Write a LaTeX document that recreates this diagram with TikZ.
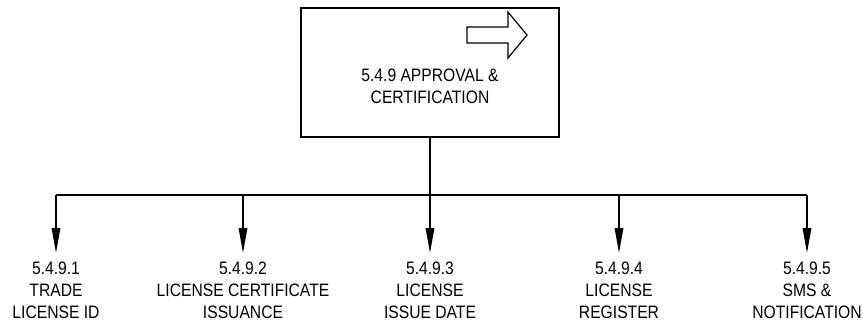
\documentclass[tikz,border=0pt]{standalone}
\usepackage{fontspec}
\setmainfont{Liberation Sans}[FakeStretch=0.87]
\usetikzlibrary{arrows.meta}

\tikzset{
  heavy/.style={line width=1.6pt},
  link/.style={heavy,-{Triangle[length=25pt,width=8.5pt]}},
  leaf/.style={anchor=north,align=center,inner ysep=9pt,font=\fontsize{18}{22}\selectfont},
  boxtext/.style={align=center,font=\fontsize{18}{22}\selectfont}
}

\begin{document}
\begin{tikzpicture}[x=1pt,y=-1pt]
\useasboundingbox (0,0) rectangle (863,325);
\node[draw,heavy,minimum width=258pt,minimum height=129pt] (app) at (430,72.5) {};
\node[boxtext] (apptitle) at (430,86) {5.4.9 APPROVAL \&\\CERTIFICATION};
\draw[line width=1.2pt] (467,27)--(508,27)--(508,12)--(527,35)--(508,58)--(508,43)--(467,43)--cycle;
\coordinate (bus) at (430,195);
\draw[heavy] (app.south) -- (bus);
\foreach \x/\n/\t in {56/1/{TRADE\\LICENSE ID},243/2/{LICENSE CERTIFICATE\\ISSUANCE},
                      430/3/{LICENSE\\ISSUE DATE},619/4/{LICENSE\\REGISTER},807/5/{SMS \&\\NOTIFICATION}}
  {\node[leaf] (c\n) at (\x,253) {5.4.9.\n\\\t};
   \draw[link] (c\n.north |- bus) -- (c\n.north);}
\draw[heavy] (c1.north |- bus) -- (c5.north |- bus);
\end{tikzpicture}
\end{document}
